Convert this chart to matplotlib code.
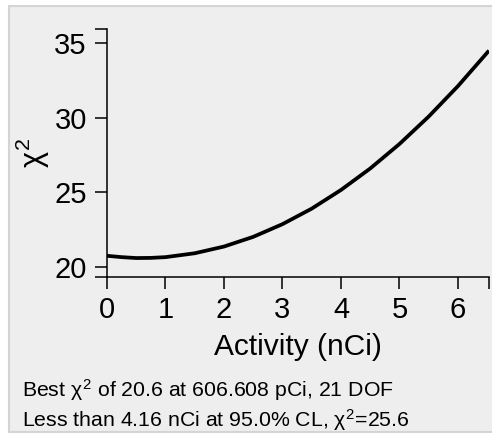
import matplotlib
matplotlib.use("Agg")
import matplotlib.pyplot as plt
from matplotlib.patches import Rectangle

# chi-square scan
activity = [0.0, 0.25, 0.5, 0.75, 1.0, 1.5, 2.0, 2.5, 3.0, 3.5, 4.0, 4.5,
            5.0, 5.5, 6.0, 6.5, 6.53]
chi2 = [20.75, 20.66, 20.60, 20.61, 20.66, 20.92, 21.37, 22.02, 22.87, 23.91,
        25.16, 26.60, 28.24, 30.08, 32.12, 34.36, 34.49]

x_ticks = [0, 1, 2, 3, 4, 5, 6]
y_ticks = [20, 25, 30, 35]
x_lim = (0, 6.53)
y_lim = (19.33, 35.94)

line1 = "Best $\\chi^2$ of 20.6 at 606.608 pCi, 21 DOF"
line2 = "Less than 4.16 nCi at 95.0% CL, $\\chi^2$=25.6"

plt.rcParams['font.family'] = ['Liberation Sans', 'DejaVu Sans']
plt.rcParams['mathtext.fontset'] = 'custom'
plt.rcParams['mathtext.rm'] = 'Liberation Sans'
plt.rcParams['mathtext.it'] = 'Liberation Sans'

fig = plt.figure(figsize=(4.92, 4.33), dpi=100)
fig.patch.set_facecolor('white')
fig.patches.append(Rectangle((9 / 492, 1.5 / 433), 1.0, 426 / 433,
                             transform=fig.transFigure, facecolor='#eeeeee',
                             edgecolor='#d4d4d4', linewidth=1.5, zorder=-5))

ax = fig.add_axes([107 / 492, 156 / 433, 382 / 492, 248 / 433])
ax.set_facecolor('none')
ax.plot(activity, chi2, color='black', lw=2.7, solid_capstyle='butt')

ax.set_xlim(*x_lim)
ax.set_ylim(*y_lim)
for s in ['top', 'right']:
    ax.spines[s].set_visible(False)
for s in ['left', 'bottom']:
    ax.spines[s].set_linewidth(1.1)

ax.set_xticks(x_ticks)
ax.set_yticks(y_ticks)
ax.set_xticks(list(x_lim), minor=True)
ax.set_yticks(list(y_lim), minor=True)
ax.tick_params(which='both', direction='out', length=8.5, width=1.1,
               labelsize=21)
ax.tick_params(axis='y', pad=6)
ax.tick_params(axis='x', pad=5)

ax.set_xlabel('Activity (nCi)', fontsize=21.5, labelpad=6.5)
ax.set_ylabel('$\\chi^2$', fontsize=22, labelpad=2)

fig.text(22 / 492, 1 - 390 / 433, line1, fontsize=15.3, va='center', ha='left')
fig.text(22 / 492, 1 - 420 / 433, line2, fontsize=15.3, va='center', ha='left')

fig.savefig('out.png', dpi=100, facecolor=fig.get_facecolor())
